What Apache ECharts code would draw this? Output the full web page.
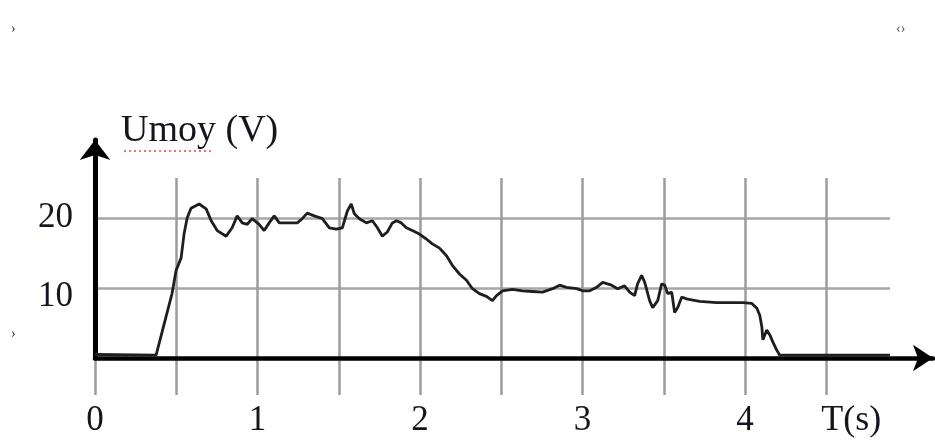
<!DOCTYPE html>
<html><head><meta charset="utf-8">
<script src="https://cdn.jsdelivr.net/npm/echarts@6/dist/echarts.min.js"></script>
<style>html,body{margin:0;padding:0;background:#fff}#c{width:935px;height:445px}</style>
</head><body><div id="c"></div>
<script>
// ---- data ----
const timeS = [0, 0.376, 0.425, 0.474, 0.499, 0.530, 0.548, 0.567, 0.591, 0.641, 0.684, 0.715, 0.752, 0.807, 0.844, 0.875, 0.906, 0.937, 0.967, 1.010, 1.041, 1.072, 1.103, 1.134, 1.195, 1.245, 1.275, 1.306, 1.349, 1.399, 1.442, 1.485, 1.522, 1.553, 1.577, 1.596, 1.627, 1.670, 1.707, 1.738, 1.768, 1.799, 1.830, 1.855, 1.885, 1.916, 1.953, 1.996, 2.039, 2.076, 2.120, 2.163, 2.200, 2.243, 2.286, 2.323, 2.366, 2.409, 2.446, 2.471, 2.508, 2.569, 2.631, 2.693, 2.754, 2.816, 2.859, 2.902, 2.964, 3.001, 3.044, 3.087, 3.124, 3.179, 3.216, 3.259, 3.290, 3.321, 3.339, 3.364, 3.383, 3.413, 3.432, 3.463, 3.487, 3.506, 3.524, 3.549, 3.567, 3.586, 3.611, 3.647, 3.721, 3.826, 3.925, 3.986, 4.042, 4.073, 4.091, 4.104, 4.110, 4.134, 4.153, 4.171, 4.196, 4.214, 4.523, 4.892];
const uMoyV = [0.5, 0.4, 4.8, 9.2, 12.5, 14.3, 17.7, 20.0, 21.4, 22.0, 21.3, 19.6, 18.2, 17.4, 18.6, 20.3, 19.3, 19.1, 19.9, 19.1, 18.2, 19.3, 20.3, 19.3, 19.3, 19.3, 19.9, 20.7, 20.3, 19.9, 18.6, 18.4, 18.6, 21.0, 22.0, 20.6, 19.9, 19.3, 19.6, 18.6, 17.4, 18.0, 19.3, 19.6, 19.3, 18.6, 18.2, 17.7, 17.0, 16.3, 15.7, 14.6, 13.2, 12.0, 11.1, 9.9, 9.2, 8.8, 8.2, 8.9, 9.6, 9.8, 9.6, 9.5, 9.4, 9.9, 10.4, 10.1, 9.9, 9.6, 9.6, 10.1, 10.8, 10.4, 9.9, 10.3, 9.4, 8.9, 10.6, 11.8, 10.8, 8.2, 7.2, 8.2, 10.6, 10.4, 9.2, 9.4, 6.5, 7.2, 8.7, 8.4, 8.1, 7.9, 7.9, 7.9, 7.8, 7.1, 6.1, 4.4, 2.6, 4.0, 3.3, 2.3, 1.1, 0.4, 0.4, 0.4];
const xTickValues = [0, 1, 2, 3, 4];
const yTickValues = [10, 20];
const xAxisTitle = 'T(s)';
const yAxisTitle = 'Umoy (V)';

// ---- styling ----
const FONT = '"Liberation Serif", "Times New Roman", serif';
const TXT = '#15151f';

const chart = echarts.init(document.getElementById('c'), null, {renderer: 'canvas'});
chart.setOption({
  animation: false,
  backgroundColor: '#fff',
  grid: [
    {left: 95, right: 60, top: 178, bottom: 50, outerBoundsMode: 'none'},
    {left: 95, right: 45, top: 148, bottom: 87, outerBoundsMode: 'none'},
    {left: 95, right: 2, top: 140, bottom: 87, outerBoundsMode: 'none'}
  ],
  xAxis: [
    {gridIndex: 0, type: 'value', min: 0, max: 4.8, interval: 0.5,
     axisLine: {show: false}, axisTick: {show: false},
     splitLine: {show: true, showMinLine: true, showMaxLine: false, lineStyle: {color: '#9c9c9c', width: 2.5}},
     axisLabel: {show: true, margin: 8, showMinLabel: true, showMaxLabel: false,
       formatter: v => v === 4.5 ? '{t|' + xAxisTitle + '}' : (xTickValues.includes(v) ? '{n|' + v + '}' : ''),
       rich: {
         n: {fontFamily: FONT, fontSize: 35, color: TXT},
         t: {fontFamily: FONT, fontSize: 36, color: TXT, padding: [0, 0, 0, 50]}
       }}},
    {gridIndex: 1, type: 'value', min: 0, max: 1, show: false},
    {gridIndex: 2, type: 'value', min: 0, max: 5.157,
     axisLine: {show: true, onZero: false, symbol: ['none', 'arrow'], symbolSize: [20, 20], lineStyle: {color: '#000', width: 4.5}},
     axisTick: {show: false}, axisLabel: {show: false}, splitLine: {show: false}}
  ],
  yAxis: [
    {gridIndex: 0, type: 'value', min: 0, max: 1, show: false},
    {gridIndex: 1, type: 'value', min: 0, max: 30, interval: 10,
     axisLine: {show: false}, axisTick: {show: false},
     splitLine: {show: true, showMinLine: false, showMaxLine: false, lineStyle: {color: '#a6a6a6', width: 2.5}},
     axisLabel: {show: true, margin: 22,
       formatter: v => yTickValues.includes(v) ? (v === 10 ? '{lo|' + v + '}' : '{hi|' + v + '}') : '',
       rich: {
         lo: {fontFamily: FONT, fontSize: 35, color: TXT, padding: [18, 0, 0, 0]},
         hi: {fontFamily: FONT, fontSize: 35, color: TXT}
       }}},
    {gridIndex: 2, type: 'value', min: 0, max: 31.14,
     axisLine: {show: true, onZero: false, symbol: ['none', 'arrow'], symbolSize: [23, 20], lineStyle: {color: '#000', width: 5}},
     axisTick: {show: false}, axisLabel: {show: false}, splitLine: {show: false}}
  ],
  series: [{
    type: 'line', xAxisIndex: 2, yAxisIndex: 2, z: 5,
    data: timeS.map((t, i) => [t, uMoyV[i]]),
    showSymbol: false, symbol: 'none', smooth: false,
    lineStyle: {color: '#1e1e1e', width: 2.8}
  }],
  graphic: [
    {type: 'text', left: 121, top: 112, style: {text: yAxisTitle, font: '38px ' + FONT, fill: TXT}},
    {type: 'line', shape: {x1: 124, y1: 151, x2: 214, y2: 151}, style: {stroke: '#d05050', lineWidth: 1.5, lineDash: [2, 3]}},
    {type: 'text', left: 11, top: 22, style: {text: '›', font: '14px ' + FONT, fill: '#333'}},
    {type: 'text', left: 896, top: 22, style: {text: '‹›', font: '14px ' + FONT, fill: '#555'}},
    {type: 'text', left: 11, top: 327, style: {text: '›', font: '14px ' + FONT, fill: '#333'}}
  ]
});
</script></body></html>
